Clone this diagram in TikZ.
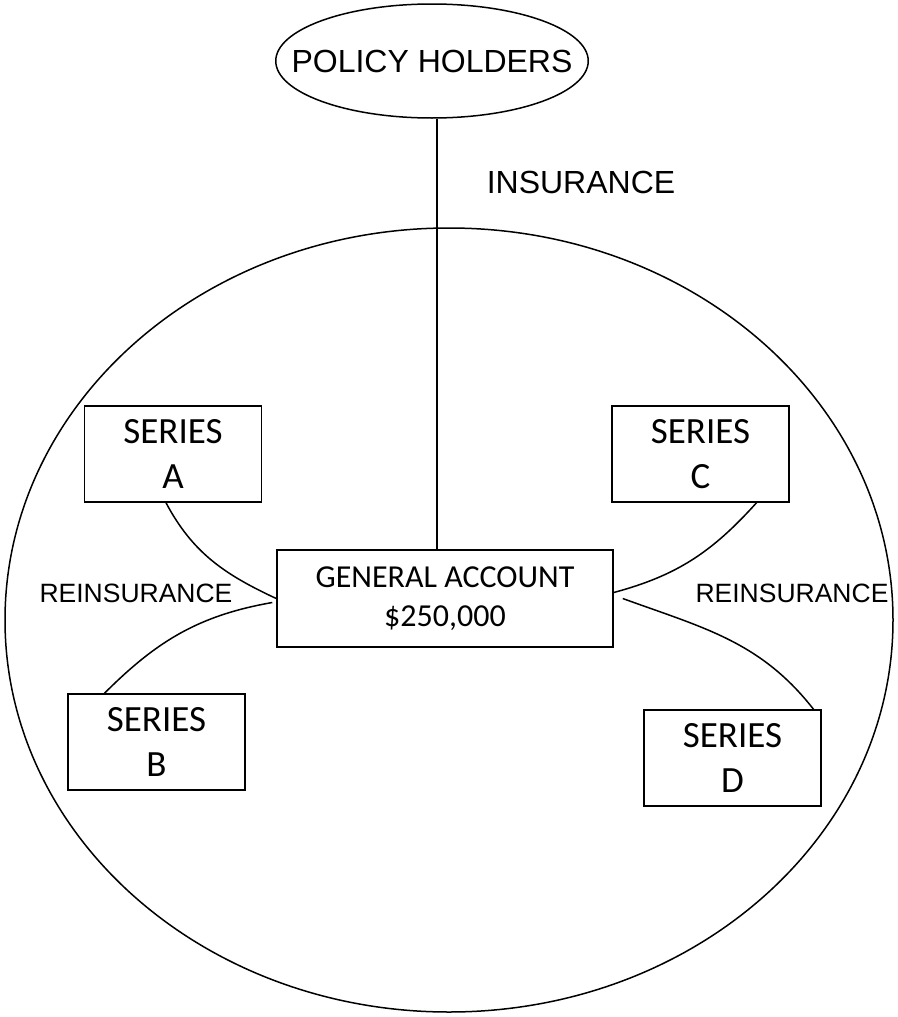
\documentclass[tikz,border=0pt]{standalone}
\usepackage{fontspec}
\setmainfont{Carlito}
\newfontfamily\arialfont{Liberation Sans}
\usetikzlibrary{shapes.geometric}

\tikzset{
  seriesbox/.style={draw, rectangle, line width=1.5pt, minimum width=177pt,
    minimum height=96pt, inner sep=0pt, align=center,
    font=\fontsize{37}{45}\selectfont},
  accountbox/.style={seriesbox, minimum width=336pt, minimum height=97pt,
    font=\fontsize{32}{39}\selectfont},
  holders/.style={draw, ellipse, line width=1.5pt, minimum width=312pt,
    minimum height=114pt, inner xsep=-30pt, inner ysep=0pt,
    font=\arialfont\fontsize{32}{36}\selectfont},
  labeltext/.style={inner sep=0pt, font=\arialfont\fontsize{26.5}{30}\selectfont},
  link/.style={line width=1.5pt}
}

\begin{document}
\begin{tikzpicture}[x=1pt,y=-1pt]
        \useasboundingbox (0,0) rectangle (897,1017);
        % the company
        \draw[line width=1.5pt] (449,620) ellipse [x radius=444pt, y radius=392pt];
        \node[holders] (P) at (432,61) {POLICY HOLDERS};
        \node[labeltext, font=\arialfont\fontsize{32}{36}\selectfont] (ins) at (581,182) {INSURANCE};
        \node[accountbox] (G) at (445,598.5) {GENERAL ACCOUNT\\\$250,000};
        \node[seriesbox] (A) at (173,454) {SERIES\\A};
        \node[seriesbox] (B) at (156.5,742) {SERIES\\B};
        \node[seriesbox] (C) at (700.5,454) {SERIES\\C};
        \node[seriesbox] (D) at (732.5,758) {SERIES\\D};
        \node[labeltext] (reinsL) at (136,593) {REINSURANCE};
        \node[labeltext] (reinsR) at (792,593) {REINSURANCE};
        % links
        \draw[link] ([xshift=5pt]P.south) -- ([xshift=-8pt]G.north);
        \draw[link] ([xshift=-7pt]A.south) to[out=-62,in=155] (G.west);
        \draw[link] ([xshift=-52pt]B.north) to[out=45,in=-170] ([xshift=-4pt,yshift=-4pt]G.west);
        \draw[link] ([xshift=56pt]C.south) to[out=-132,in=15] ([yshift=6pt]G.east);
        \draw[link] ([xshift=9pt]G.east) to[out=-20,in=128] ([xshift=81pt]D.north);
\end{tikzpicture}
\end{document}
